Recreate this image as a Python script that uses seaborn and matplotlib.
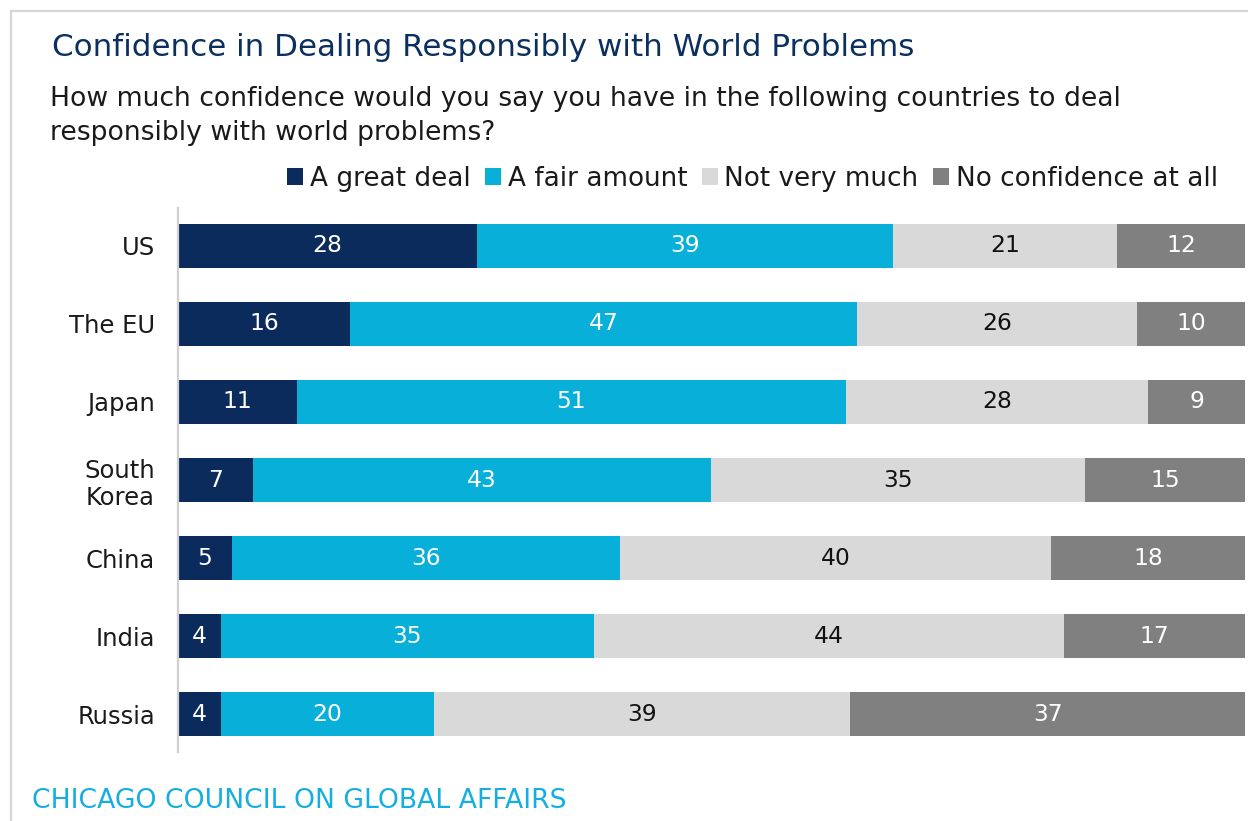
import numpy as np
import pandas as pd
import matplotlib
matplotlib.use("Agg")
import matplotlib.pyplot as plt
from matplotlib.patches import Patch
from matplotlib.lines import Line2D
import seaborn as sns

countries = ["US", "The EU", "Japan", "South\nKorea", "China", "India", "Russia"]
series_names = ["A great deal", "A fair amount", "Not very much", "No confidence at all"]
great_deal = [28, 16, 11, 7, 5, 4, 4]
fair_amount = [39, 47, 51, 43, 36, 35, 20]
not_very_much = [21, 26, 28, 35, 40, 44, 39]
no_confidence = [12, 10, 9, 15, 18, 17, 37]

colors = ["#0a2b5c", "#08afd9", "#d9d9d9", "#808080"]
label_colors = ["white", "white", "#111111", "white"]

sns.set_theme(style="white")
FONT = "DejaVu Sans"
plt.rcParams["font.family"] = [FONT]

W, H = 1248, 821
fig = plt.figure(figsize=(W / 100, H / 100), dpi=100)

# outer frame lines (top and left)
fig.add_artist(Line2D([11 / W, 11 / W], [0, 1 - 11 / H], color="#d6d6d6", lw=1.6, transform=fig.transFigure))
fig.add_artist(Line2D([11 / W, 1], [1 - 11 / H, 1 - 11 / H], color="#d6d6d6", lw=1.6, transform=fig.transFigure))

ax = fig.add_axes([178 / W, 1 - 752 / H, (1245 - 178) / W, (752 - 208) / H])

values = np.array([great_deal, fair_amount, not_very_much, no_confidence], dtype=float)
shares = values / values.sum(axis=0) * 100
cum = np.cumsum(shares, axis=0)

df = pd.DataFrame({"country": countries})
for i, name in enumerate(series_names):
    df[name] = cum[i]

# stacked bars: widest cumulative total first, then overlay smaller ones
for i in range(len(series_names) - 1, -1, -1):
    sns.barplot(data=df, x=series_names[i], y="country", color=colors[i],
                width=0.57, saturation=1, ax=ax, orient="h", linewidth=0)

for j in range(len(countries)):
    left = 0.0
    for i in range(len(series_names)):
        w = shares[i, j]
        ax.text(left + w / 2, j, f"{int(values[i, j])}", ha="center", va="center",
                fontsize=16.8, color=label_colors[i])
        left += w

ax.set_xlim(0, 100)
ax.set_ylim(6.487, -0.487)
ax.set_xlabel("")
ax.set_ylabel("")
ax.set_xticks([])
ax.tick_params(axis="y", length=0, pad=16.5, labelsize=17.5, labelcolor="#1a1a1a")
for lbl in ax.get_yticklabels():
    lbl.set_multialignment("center")
for s in ["top", "right", "bottom"]:
    ax.spines[s].set_visible(False)
ax.spines["left"].set_color("#d0d0d0")
ax.spines["left"].set_linewidth(1.6)

fig.text(52 / W, 1 - 48 / H, "Confidence in Dealing Responsibly with World Problems",
         fontsize=22.3, color="#0b3060", ha="left", va="center")
fig.text(50 / W, 1 - 116 / H,
         "How much confidence would you say you have in the following countries to deal\nresponsibly with world problems?",
         fontsize=19.2, color="#1a1a1a", ha="left", va="center", linespacing=1.35)
fig.text(32 / W, 1 - 801 / H, "CHICAGO COUNCIL ON GLOBAL AFFAIRS",
         fontsize=19.2, color="#14aee0", ha="left", va="center")

handles = [Patch(facecolor=c, edgecolor="none") for c in colors]
fig.legend(handles, series_names, loc="center right", bbox_to_anchor=(1218 / W, 1 - 179 / H),
           ncol=4, frameon=False, fontsize=18.9, handlelength=0.62, handleheight=0.62,
           handletextpad=0.25, columnspacing=0.55, borderpad=0, borderaxespad=0,
           labelcolor="#1a1a1a")

fig.savefig("out.png", dpi=100, facecolor="white")
